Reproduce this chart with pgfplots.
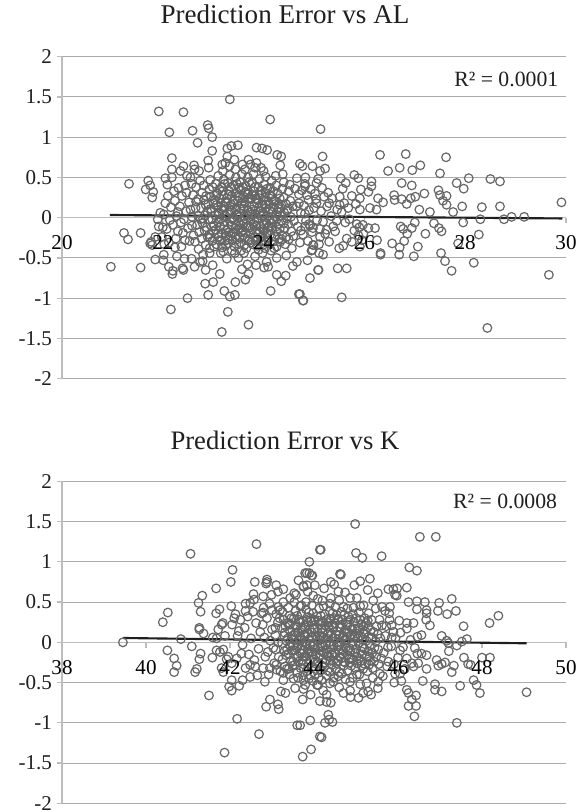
\documentclass[border=0pt]{standalone}
\usepackage{fontspec}
\setmainfont{Liberation Serif}
\usepackage{pgfplots}
\pgfplotsset{compat=1.18}
\definecolor{gridc}{HTML}{ABABAB}
\definecolor{axc}{HTML}{BDBDBD}
\definecolor{markc}{HTML}{666666}
\pgfplotsset{
  common/.style={
    scale only axis, width=378pt, height=241.5pt,
    ymin=-2, ymax=2, ytick={-2,-1.5,-1,-0.5,0,0.5,1,1.5,2},
    yticklabels={-2,-1.5,-1,-0.5,0,0.5,1,1.5,2},
    axis x line=middle, axis y line=left,
    axis line style={draw=axc, line width=1.1pt, -},
    ymajorgrids, grid style={draw=gridc, line width=0.75pt},
    tick style={draw=axc, line width=0.9pt},
    tick align=outside, major tick length=4pt,
    hide obscured x ticks=false,
    every tick label/.style={font=\fontsize{15.8}{18}\selectfont, text=black!88},
    xticklabel style={font=\fontsize{15.8}{18}\selectfont, text=black, yshift=-6pt},
    clip=false,
  },
  labelsonly/.style={
    scale only axis, width=378pt, height=241.5pt, ymin=-2, ymax=2,
    axis x line=middle, axis y line=none, hide obscured x ticks=false,
    axis line style={draw=none}, tick style={draw=none}, tick align=outside, major tick length=4pt,
    xticklabel style={font=\fontsize{15.8}{18}\selectfont, text=black, yshift=-6pt},
    clip=false,
  },
  pts/.style={only marks, mark=o, mark size=3.25pt, mark options={draw=markc, line width=0.9pt, fill=none}},
  trend/.style={no marks, draw=black!88, line width=1.6pt},
}
\begin{document}
\begin{tikzpicture}[x=1pt,y=1pt]
\node[font=\fontsize{20.3}{22}\selectfont, text=black!88] at (213.7,598) {Prediction Error vs AL};
\node[font=\fontsize{20}{22}\selectfont, text=black!88] at (213.7,279) {Prediction Error vs K};
\begin{axis}[common, at={(46.5pt,325pt)}, anchor=south west,
  xmin=20, xmax=30, xtick={20,22,...,30}, xticklabels={}]
\addplot[pts] coordinates {
(21.92,1.32)(22.41,1.31)(23.33,1.47)(24.13,1.22)(22.13,1.06)(22.59,1.08)(22.89,1.15)(22.91,1.11)(22.98,1.00)(22.69,0.93)(25.13,1.10)
(22.98,0.83)(23.28,0.86)(23.36,0.89)(23.49,0.90)(23.86,0.87)(23.97,0.86)(24.07,0.84)(24.27,0.78)(24.35,0.76)(22.18,0.74)(22.90,0.71)(23.28,0.76)
(24.33,0.65)(24.72,0.67)(24.77,0.64)(24.97,0.64)(25.17,0.76)(21.33,0.42)(21.71,0.46)(21.75,0.40)(21.66,0.35)(21.81,0.32)(21.79,0.25)(22.18,0.60)
(22.05,0.49)(22.18,0.50)(22.09,0.41)(22.41,0.64)(22.62,0.65)(22.35,0.58)(22.48,0.52)(22.55,0.50)(22.63,0.60)(22.72,0.58)(22.91,0.62)(23.18,0.66)
(23.24,0.68)(23.42,0.72)(23.58,0.66)(23.70,0.72)(23.74,0.66)(23.86,0.68)(23.95,0.62)(24.00,0.58)(24.24,0.52)(24.38,0.54)(24.66,0.49)(24.83,0.50)
(26.31,0.78)(26.82,0.79)(27.62,0.75)(26.47,0.58)(26.70,0.62)(26.95,0.59)(27.11,0.65)(27.50,0.55)(25.12,0.58)(25.22,0.61)(25.53,0.49)(25.63,0.43)
(25.80,0.53)(25.88,0.49)(26.14,0.45)(26.74,0.43)(26.94,0.40)(27.83,0.43)(27.97,0.36)(28.07,0.49)(28.50,0.48)(28.69,0.45)(29.91,0.19)(28.69,0.14)
(28.33,0.13)(27.94,0.14)(27.19,0.30)(27.47,0.34)(27.50,0.28)(27.63,0.27)(27.56,0.21)(27.63,0.16)(27.01,0.26)(26.92,0.24)(26.84,0.17)(27.09,0.10)
(27.30,0.07)(27.76,0.07)(26.59,0.28)(26.60,0.22)(26.74,0.23)(26.37,0.19)(26.27,0.24)(26.14,0.39)(26.08,0.32)(25.93,0.35)(25.57,0.36)(25.05,0.43)
(25.08,0.48)(24.82,0.42)(24.82,0.39)(25.28,0.31)(25.20,0.26)(25.51,0.26)(25.75,0.27)(25.91,0.24)(26.11,0.12)(26.24,0.10)(25.91,0.10)(25.51,0.16)
(25.55,0.07)(25.05,0.18)(24.89,0.22)(28.92,0.01)(29.17,0.01)(28.77,-0.02)(28.30,-0.02)(27.96,-0.06)
(24.92,-0.75)(25.08,-0.65)(25.47,-0.63)(25.65,-0.63)(25.55,-0.99)(24.79,-1.03)(24.72,-0.95)(28.44,-1.37)(29.66,-0.71)(28.17,-0.56)(27.73,-0.66)
(27.60,-0.54)(27.52,-0.44)(26.98,-0.48)(26.69,-0.46)(26.32,-0.44)(26.32,-0.46)(27.06,-0.36)(26.70,-0.37)(26.55,-0.32)(26.25,-0.28)(26.79,-0.29)
(26.85,-0.20)(26.94,-0.13)(27.21,-0.20)(26.72,-0.11)(26.77,-0.14)(27.00,-0.06)(27.38,-0.07)(27.48,-0.13)(27.53,-0.17)(28.27,-0.21)(27.86,-0.32)
(24.87,-0.53)(24.98,-0.34)(24.97,-0.40)(25.10,-0.44)(25.18,-0.46)(25.50,-0.38)(25.58,-0.35)(25.65,-0.26)(25.75,-0.30)(25.91,-0.36)(25.88,-0.22)
(25.98,-0.20)(25.95,-0.28)(25.25,-0.15)(25.38,-0.11)(24.98,-0.13)(24.92,-0.10)(24.82,-0.11)(25.12,-0.24)(26.21,-0.13)(26.08,-0.13)(25.90,-0.12)
(25.80,-0.16)(25.85,-0.08)(25.97,-0.09)(25.62,-0.06)(25.45,-0.04)(25.18,-0.05)
(20.97,-0.61)(21.56,-0.62)(21.23,-0.19)(21.31,-0.27)(21.56,-0.19)(21.85,-0.52)(22.01,-0.53)(22.02,-0.46)(22.12,-0.61)(22.20,-0.66)(22.19,-0.70)
(22.41,-0.65)(22.39,-0.63)(22.63,-0.61)(22.85,-0.65)(22.99,-0.59)(23.13,-0.70)(23.00,-0.80)(22.84,-0.82)(23.44,-0.80)(22.90,-0.96)(22.49,-1.00)
(22.16,-1.14)(23.22,-0.91)(23.33,-0.98)(23.43,-0.96)(23.29,-1.17)(23.70,-1.33)(23.17,-1.42)(24.14,-0.91)(24.70,-0.95)(24.78,-1.03)(24.35,-0.79)
(24.26,-0.71)(24.44,-0.72)(23.64,-0.77)(23.70,-0.70)(23.57,-0.64)(23.68,-0.58)(23.85,-0.59)(24.01,-0.62)(24.09,-0.61)(24.06,-0.55)(24.58,-0.60)
(24.66,-0.55)(25.09,-0.65)(24.26,-0.50)(24.45,-0.47)(23.83,-0.48)(23.27,-0.51)(23.50,-0.50)(22.74,-0.55)(22.79,-0.54)(22.57,-0.51)(22.43,-0.51)
(22.28,-0.48)(22.80,-0.46)(21.75,-0.32)(21.77,-0.30)(21.79,-0.34)(21.85,-0.24)(21.92,-0.11)(22.37,-0.36)(22.24,-0.37)(22.64,-0.30)(22.93,-0.38)
(23.20,-0.42)(23.43,-0.44)(24.03,-0.38)(24.99,-0.34)(24.95,-0.41)
% outer ring of the cloud
(21.95,0.06)(22.02,0.04)(22.05,0.18)(22.10,0.27)(22.16,0.13)(22.22,0.33)(22.24,0.21)(22.27,0.02)(22.31,0.37)(22.34,0.14)(22.36,-0.06)(22.38,0.27)
(22.40,-0.19)(22.44,0.40)(22.46,0.08)(22.47,0.31)(22.50,-0.13)(22.52,0.19)(22.53,-0.29)(22.57,0.42)(22.58,0.01)(22.60,0.28)(22.61,-0.22)(22.65,0.12)
(22.66,0.38)(22.68,-0.09)(22.70,0.23)(22.71,-0.39)(22.74,0.46)(22.75,-0.02)(21.98,-0.24)(22.08,-0.14)(22.12,-0.31)(22.20,-0.09)(22.26,-0.26)(22.30,-0.17)
(22.03,-0.33)(22.14,-0.03)(21.90,-0.02)(22.00,-0.12)
(24.62,0.36)(24.66,0.14)(24.68,-0.11)(24.70,0.29)(24.72,-0.31)(24.74,0.06)(24.76,0.34)(24.78,-0.21)(24.80,0.15)(24.84,-0.04)(24.86,0.28)(24.88,-0.29)
(24.90,0.09)(24.94,0.35)(24.96,-0.18)(25.00,0.12)(25.02,0.30)(25.06,-0.03)(25.10,-0.33)(25.14,0.08)(25.16,0.37)(25.22,-0.20)(25.26,0.14)(25.30,-0.30)
(25.34,0.02)(25.36,0.24)(25.42,-0.17)(25.46,0.10)(25.60,0.18)(25.68,0.12)(25.70,-0.02)(25.83,0.17)
% dense core
(22.78,0.31)(22.82,0.22)(22.76,0.12)(22.84,0.03)(22.79,-0.07)(22.83,-0.16)(22.77,-0.26)(22.85,-0.34)(22.81,0.40)
(22.92,0.35)(22.95,0.26)(22.90,0.17)(22.96,0.07)(22.91,-0.02)(22.97,-0.11)(22.92,-0.21)(22.98,-0.29)(22.94,0.47)(22.93,-0.44)
(23.05,0.42)(23.08,0.30)(23.03,0.22)(23.09,0.13)(23.04,0.03)(23.10,-0.06)(23.05,-0.15)(23.11,-0.24)(23.06,-0.33)(23.10,0.52)
(23.17,0.38)(23.20,0.28)(23.15,0.18)(23.21,0.09)(23.16,-0.01)(23.22,-0.10)(23.17,-0.20)(23.23,-0.29)(23.18,-0.37)(23.21,0.47)(23.19,0.58)
(23.29,0.43)(23.32,0.33)(23.27,0.24)(23.33,0.14)(23.28,0.05)(23.34,-0.05)(23.29,-0.14)(23.35,-0.23)(23.30,-0.32)(23.33,0.53)(23.32,0.64)
(23.41,0.40)(23.44,0.30)(23.39,0.20)(23.45,0.10)(23.40,0.00)(23.46,-0.09)(23.41,-0.18)(23.47,-0.27)(23.42,-0.36)(23.45,0.50)(23.44,0.60)
(23.53,0.44)(23.56,0.34)(23.51,0.25)(23.57,0.15)(23.52,0.06)(23.58,-0.04)(23.53,-0.13)(23.59,-0.22)(23.54,-0.31)(23.57,0.54)(23.55,-0.41)
(23.65,0.39)(23.68,0.29)(23.63,0.19)(23.69,0.09)(23.64,-0.01)(23.70,-0.10)(23.65,-0.19)(23.71,-0.29)(23.66,-0.38)(23.69,0.50)(23.63,0.60)
(23.77,0.43)(23.80,0.33)(23.75,0.23)(23.81,0.14)(23.76,0.04)(23.82,-0.05)(23.77,-0.15)(23.83,-0.24)(23.78,-0.33)(23.80,0.54)(23.83,0.62)
(23.89,0.38)(23.92,0.28)(23.87,0.18)(23.93,0.08)(23.88,-0.01)(23.94,-0.11)(23.89,-0.20)(23.95,-0.29)(23.90,-0.40)(23.92,0.48)
(24.01,0.41)(24.04,0.31)(23.99,0.22)(24.05,0.12)(24.00,0.03)(24.06,-0.07)(24.01,-0.16)(24.07,-0.25)(24.02,-0.33)(24.04,0.51)
(24.13,0.37)(24.16,0.26)(24.11,0.17)(24.17,0.07)(24.12,-0.02)(24.18,-0.12)(24.13,-0.21)(24.19,-0.30)(24.15,-0.41)(24.16,0.46)
(24.25,0.40)(24.28,0.30)(24.23,0.20)(24.29,0.11)(24.24,0.01)(24.30,-0.08)(24.25,-0.17)(24.31,-0.26)(24.26,-0.36)
(24.37,0.36)(24.40,0.25)(24.35,0.16)(24.41,0.06)(24.36,-0.04)(24.42,-0.13)(24.37,-0.22)(24.43,-0.33)(24.40,0.44)
(24.50,0.33)(24.53,0.21)(24.48,0.11)(24.54,0.01)(24.49,-0.08)(24.55,-0.17)(24.50,-0.27)(24.56,-0.38)(24.52,0.41)
% dense core, points between
(22.86,0.27)(22.88,0.08)(22.87,-0.12)(22.89,-0.24)
(22.99,0.38)(23.01,0.18)(22.98,-0.02)(23.00,-0.17)(23.02,-0.36)
(23.12,0.35)(23.13,0.24)(23.11,0.05)(23.14,-0.11)(23.13,-0.28)(23.15,-0.44)
(23.23,0.42)(23.25,0.20)(23.24,0.02)(23.26,-0.16)(23.25,-0.34)
(23.35,0.38)(23.37,0.27)(23.36,0.09)(23.38,-0.01)(23.37,-0.10)(23.39,-0.28)(23.37,-0.41)
(23.47,0.42)(23.49,0.21)(23.48,0.03)(23.50,-0.06)(23.49,-0.15)(23.51,-0.33)
(23.59,0.38)(23.61,0.26)(23.60,0.11)(23.62,0.02)(23.61,-0.07)(23.63,-0.25)(23.61,-0.44)
(23.71,0.44)(23.73,0.24)(23.72,0.06)(23.74,-0.03)(23.73,-0.12)(23.75,-0.31)
(23.83,0.38)(23.85,0.24)(23.84,0.09)(23.86,-0.03)(23.85,-0.17)(23.87,-0.35)
(23.95,0.34)(23.97,0.17)(23.96,0.02)(23.98,-0.14)(23.97,-0.24)(23.98,-0.44)
(24.07,0.36)(24.09,0.20)(24.08,0.02)(24.10,-0.11)(24.09,-0.28)
(24.19,0.33)(24.21,0.13)(24.20,-0.04)(24.22,-0.23)(24.21,-0.38)
(24.32,0.24)(24.33,0.03)(24.32,-0.14)(24.33,-0.30)
(24.44,0.17)(24.46,-0.01)(24.45,-0.24)
(24.58,0.14)(24.60,-0.04)(24.59,-0.23)
(22.66,0.20)(22.70,0.02)(22.72,-0.18)(22.55,0.10)(22.58,-0.10)(22.42,-0.02)(22.44,-0.28)(22.30,0.07)
(24.70,0.18)(24.74,-0.16)(24.82,0.05)(24.90,-0.08)(25.04,0.23)(25.12,-0.14)(25.30,0.18)
% tight centre of the cloud
(23.07,0.16)(23.12,-0.02)(23.19,0.33)(23.22,0.14)(23.26,-0.22)(23.31,0.29)(23.34,0.07)(23.38,-0.19)(23.43,0.22)(23.46,0.04)(23.51,0.37)(23.54,-0.09)(23.56,0.18)(23.60,-0.16)(23.64,0.32)(23.67,0.03)(23.70,0.24)(23.74,-0.20)(23.78,0.10)(23.82,0.27)(23.86,-0.10)(23.90,0.12)(23.94,-0.24)(23.99,0.06)(24.03,0.25)(24.06,-0.19)(24.11,0.10)(24.15,-0.07)(24.20,0.21)(24.25,-0.11)(24.30,0.17)(24.36,-0.27)
(23.09,-0.20)(23.16,0.11)(23.21,-0.05)(23.27,0.18)(23.31,-0.18)(23.36,0.16)(23.41,-0.03)(23.44,-0.24)(23.49,0.27)(23.53,0.11)(23.57,-0.18)(23.61,0.14)(23.66,-0.12)(23.69,0.30)(23.72,-0.27)(23.77,0.28)(23.80,-0.08)(23.83,0.05)(23.88,0.22)(23.92,-0.17)(23.96,0.29)(24.00,-0.09)(24.04,0.16)(24.08,-0.13)(24.13,0.28)(24.17,-0.02)(24.23,-0.24)(24.28,0.07)
(22.95,0.11)(23.01,-0.10)(23.06,0.28)(23.10,0.06)(22.85,0.16)(22.80,-0.01)(22.94,-0.25)(23.17,-0.28)(23.29,-0.27)(23.52,-0.25)(23.62,-0.34)(23.84,-0.28)(24.05,-0.31)(24.40,-0.07)(24.47,0.09)(24.34,0.12)
};
\addplot[trend] coordinates {(20.95,0.033)(29.93,-0.01)};
\node[anchor=east, font=\fontsize{16.3}{18}\selectfont, text=black!88] at (axis cs:29.94,1.72) {R² = 0.0001};
\end{axis}
\begin{axis}[labelsonly, at={(46.5pt,325pt)}, anchor=south west,
  xmin=20, xmax=30, xtick={20,22,...,30}, xticklabels={20,22,24,26,28,30}, ytick=\empty]
\end{axis}
\begin{axis}[common, at={(46.5pt,6.5pt)}, anchor=south west,
  xmin=38, xmax=50, xtick={38,40,...,50}, xticklabels={}]
\addplot[pts] coordinates {
(41.06,1.10)(42.63,1.22)(44.14,1.15)(43.89,1.00)(42.06,0.90)(42.02,0.75)(42.59,0.75)(42.88,0.78)(42.88,0.75)(42.86,0.73)(43.83,0.86)(43.89,0.86)(43.94,0.83)
(43.63,0.77)(43.75,0.69)(43.83,0.71)(41.67,0.67)(43.10,0.71)(43.27,0.66)(41.34,0.58)(41.25,0.49)(41.30,0.38)(40.52,0.37)(40.40,0.25)(41.67,0.36)(41.75,0.41)
(42.03,0.45)(42.56,0.60)(42.37,0.48)(42.48,0.49)(42.57,0.53)(42.79,0.57)(42.99,0.59)(42.94,0.48)(43.14,0.63)(43.53,0.61)(43.57,0.59)(43.43,0.55)(43.85,0.63)
(43.81,0.50)(42.13,0.35)(42.10,0.30)(42.37,0.39)(42.75,0.36)(42.79,0.37)(43.15,0.44)(43.19,0.40)(41.27,0.16)(41.27,0.18)(41.37,0.11)(41.83,0.24)(41.80,0.22)
(41.72,0.16)(41.88,0.08)(42.21,0.14)(40.83,0.04)(41.59,0.06)(41.68,0.05)(39.45,0.00)
(44.98,1.47)(46.52,1.31)(46.90,1.31)(44.16,1.15)(45.00,1.11)(45.15,1.05)(45.61,1.07)(46.27,0.93)(46.45,0.89)(43.79,0.86)(43.96,0.83)(44.64,0.84)(44.62,0.85)
(45.33,0.79)(45.10,0.76)(44.96,0.71)(45.28,0.65)(45.52,0.61)(46.21,0.68)(45.77,0.66)(45.89,0.66)(45.98,0.67)(45.93,0.59)(45.97,0.58)(47.28,0.54)(44.40,0.75)
(44.48,0.72)(44.58,0.63)(44.74,0.62)(43.75,0.70)(44.02,0.71)(44.24,0.67)(46.25,0.50)(46.45,0.51)(46.64,0.50)(46.98,0.49)(46.95,0.39)(47.17,0.35)(47.38,0.39)
(46.45,0.41)(46.68,0.40)(46.68,0.36)(46.67,0.28)(46.76,0.21)(48.39,0.33)(48.18,0.24)(47.56,0.20)(47.04,0.08)(47.64,0.04)(47.52,0.01)(47.40,-0.04)(47.16,0.02)
(47.20,-0.01)(46.56,0.09)(46.46,0.07)(46.37,0.24)(46.21,0.24)(46.21,0.17)(46.03,0.27)(45.85,0.21)(45.89,0.13)(45.81,0.44)(45.69,0.39)(45.79,0.36)(45.41,0.52)
(45.18,0.46)(45.10,0.45)(44.70,0.44)(44.38,0.48)(45.56,0.28)(45.37,0.28)(45.29,0.19)(45.02,0.55)(44.86,0.55)
(40.51,-0.10)(40.67,-0.20)(40.73,-0.29)(40.67,-0.37)(41.09,-0.05)(41.30,-0.14)(41.27,-0.21)(41.21,-0.33)(41.17,-0.37)(41.58,-0.19)(41.68,-0.10)(41.76,-0.12)
(41.84,-0.09)(41.80,-0.32)(41.84,-0.37)(41.50,-0.66)(42.04,-0.47)(41.98,-0.55)(42.04,-0.60)(42.22,-0.54)(42.30,-0.47)(42.48,-0.43)(42.65,-0.41)(42.83,-0.49)
(42.17,-0.95)(42.69,-1.14)(41.87,-1.37)(42.86,-0.80)(42.95,-0.71)(43.14,-0.77)(43.16,-0.83)(43.60,-1.03)(43.91,-0.97)(44.14,-1.17)(43.93,-1.33)(43.73,-1.42)
(43.73,-0.71)(43.92,-0.65)(44.14,-0.73)(43.21,-0.61)(43.32,-0.63)(43.55,-0.57)(43.75,-0.58)(43.27,-0.47)(43.51,-0.45)(43.75,-0.47)(44.07,-0.53)
(42.48,-0.28)(42.60,-0.30)(42.37,-0.32)(42.79,-0.32)(42.95,-0.32)(43.11,-0.34)(43.27,-0.38)(42.04,-0.26)(42.16,-0.20)(42.27,-0.14)(41.96,-0.18)(41.92,-0.21)
(44.18,-1.18)(44.26,-1.00)(44.34,-0.90)(44.36,-0.96)(44.44,-0.99)(43.67,-1.03)(46.39,-0.92)(46.43,-0.79)(46.25,-0.79)(47.40,-1.00)(49.06,-0.62)(47.95,-0.63)
(47.87,-0.53)(47.80,-0.47)(47.48,-0.54)(47.04,-0.61)(46.88,-0.59)(46.88,-0.52)(46.59,-0.48)(46.43,-0.66)(46.33,-0.71)(46.25,-0.63)(46.21,-0.59)(46.08,-0.48)
(45.91,-0.50)(45.52,-0.57)(45.36,-0.65)(45.29,-0.61)(45.17,-0.63)(45.06,-0.69)(44.87,-0.68)(44.86,-0.60)(44.70,-0.63)(44.40,-0.75)(44.30,-0.74)(44.30,-0.65)
(47.28,-0.37)(47.33,-0.29)(47.57,-0.19)(47.67,-0.27)(47.73,-0.28)(48.00,-0.19)(48.19,-0.19)(47.21,-0.11)(47.12,-0.25)(47.04,-0.27)(46.92,-0.22)(46.96,-0.29)
(46.68,-0.33)(46.68,-0.16)(46.56,-0.14)(46.46,-0.14)(46.48,-0.26)(46.37,-0.30)(46.33,-0.26)(46.21,-0.20)(46.05,-0.10)(46.05,-0.39)(45.93,-0.39)(45.77,-0.24)
(45.57,-0.39)(45.53,-0.49)(45.25,-0.51)(44.86,-0.49)(44.75,-0.46)(44.46,-0.49)(44.38,-0.51)(44.10,-0.53)(43.79,-0.53)
% outer ring of the cloud
(42.05,0.22)(42.18,0.08)(42.25,0.28)(42.30,-0.03)(42.35,0.18)(42.42,0.32)(42.45,-0.15)(42.50,0.05)(42.55,0.38)(42.58,-0.22)(42.62,0.24)(42.68,-0.08)(42.72,0.13)
(42.80,0.43)(42.84,-0.18)(42.88,0.30)(42.92,-0.40)(42.96,0.02)(43.00,0.40)(43.05,-0.26)(43.08,0.18)(45.62,0.21)(45.66,-0.13)(45.70,0.08)(45.74,-0.30)(45.80,0.28)
(45.84,-0.05)(45.90,-0.27)(45.94,0.05)(46.00,-0.19)(46.06,0.12)(46.12,-0.06)(46.16,-0.33)(46.30,0.03)(46.40,-0.07)(45.62,0.44)(45.30,0.36)(44.94,0.43)(44.20,0.52)
(43.98,0.58)(43.70,0.46)(44.60,0.52)(45.47,0.42)(45.64,-0.42)(45.40,-0.44)(45.10,-0.52)(44.92,-0.44)(44.60,-0.56)(44.22,-0.60)(43.98,-0.48)
% dense core
(43.10,0.35)(43.14,0.25)(43.08,0.09)(43.15,0.00)(43.09,-0.09)(43.16,-0.18)(43.10,-0.28)
(43.25,0.38)(43.28,0.28)(43.23,0.18)(43.29,0.08)(43.24,-0.01)(43.30,-0.11)(43.25,-0.21)(43.31,-0.30)(43.27,0.50)
(43.39,0.43)(43.42,0.33)(43.37,0.24)(43.43,0.14)(43.38,0.05)(43.44,-0.05)(43.39,-0.14)(43.45,-0.23)(43.40,-0.33)(43.42,-0.40)
(43.53,0.50)(43.56,0.39)(43.51,0.29)(43.57,0.19)(43.52,0.09)(43.58,0.00)(43.53,-0.10)(43.59,-0.19)(43.54,-0.28)(43.60,-0.38)
(43.67,0.45)(43.70,0.35)(43.65,0.25)(43.71,0.15)(43.66,0.06)(43.72,-0.04)(43.67,-0.13)(43.73,-0.22)(43.68,-0.32)(43.74,-0.41)
(43.81,0.41)(43.84,0.31)(43.79,0.21)(43.85,0.11)(43.80,0.01)(43.86,-0.08)(43.81,-0.17)(43.87,-0.27)(43.82,-0.36)(43.88,-0.45)
(43.95,0.46)(43.98,0.36)(43.93,0.26)(43.99,0.17)(43.94,0.07)(44.00,-0.03)(43.95,-0.12)(44.01,-0.21)(43.96,-0.31)(44.02,-0.40)
(44.09,0.54)(44.12,0.42)(44.07,0.32)(44.13,0.22)(44.08,0.13)(44.14,0.03)(44.09,-0.07)(44.15,-0.16)(44.10,-0.25)(44.16,-0.35)(44.11,-0.44)
(44.23,0.45)(44.26,0.35)(44.21,0.25)(44.27,0.16)(44.22,0.06)(44.28,-0.03)(44.23,-0.13)(44.29,-0.22)(44.24,-0.31)(44.30,-0.41)
(44.37,0.39)(44.40,0.29)(44.35,0.20)(44.41,0.10)(44.36,0.00)(44.42,-0.09)(44.37,-0.18)(44.43,-0.28)(44.38,-0.37)(44.40,0.55)
(44.51,0.44)(44.54,0.34)(44.49,0.24)(44.55,0.14)(44.50,0.05)(44.56,-0.05)(44.51,-0.14)(44.57,-0.23)(44.52,-0.33)(44.58,-0.42)
(44.65,0.38)(44.68,0.28)(44.63,0.18)(44.69,0.08)(44.64,-0.01)(44.70,-0.11)(44.65,-0.20)(44.71,-0.29)(44.66,-0.39)
(44.79,0.42)(44.82,0.32)(44.77,0.22)(44.83,0.12)(44.78,0.03)(44.84,-0.07)(44.79,-0.16)(44.85,-0.25)(44.80,-0.35)
(44.93,0.35)(44.96,0.25)(44.91,0.16)(44.97,0.06)(44.92,-0.04)(44.98,-0.13)(44.93,-0.22)(44.99,-0.32)
(45.07,0.37)(45.10,0.28)(45.05,0.18)(45.11,0.08)(45.06,-0.01)(45.12,-0.11)(45.07,-0.20)(45.13,-0.29)(45.08,-0.40)
(45.21,0.30)(45.24,0.24)(45.19,0.11)(45.25,0.02)(45.20,-0.08)(45.26,-0.17)(45.21,-0.27)(45.27,-0.36)
(45.35,0.15)(45.38,0.06)(45.33,-0.04)(45.39,-0.13)(45.34,-0.23)(45.40,-0.32)
(45.49,0.20)(45.52,0.10)(45.47,0.01)(45.53,-0.09)(45.48,-0.18)(45.54,-0.27)
% dense core, points between
(43.32,0.20)(43.34,0.02)(43.33,-0.16)(43.35,-0.33)
(43.46,0.30)(43.48,0.08)(43.47,-0.10)(43.49,-0.29)
(43.60,0.33)(43.62,0.12)(43.61,-0.05)(43.63,-0.24)(43.62,-0.44)
(43.74,0.27)(43.76,0.08)(43.75,-0.10)(43.77,-0.18)(43.76,-0.33)
(43.88,0.37)(43.90,0.16)(43.89,0.04)(43.91,-0.03)(43.90,-0.22)(43.91,-0.41)
(44.02,0.28)(44.04,0.08)(44.03,-0.08)(44.05,-0.15)(44.04,-0.33)
(44.16,0.33)(44.18,0.17)(44.17,0.08)(44.19,-0.02)(44.18,-0.11)(44.20,-0.29)(44.18,-0.47)
(44.30,0.28)(44.32,0.10)(44.31,-0.08)(44.33,-0.17)(44.32,-0.35)
(44.44,0.36)(44.46,0.18)(44.45,0.05)(44.47,-0.04)(44.46,-0.23)(44.47,-0.44)
(44.58,0.28)(44.60,0.09)(44.59,-0.09)(44.61,-0.18)(44.60,-0.37)
(44.72,0.34)(44.74,0.15)(44.73,0.03)(44.75,-0.07)(44.74,-0.25)
(44.86,0.28)(44.88,0.09)(44.87,-0.10)(44.89,-0.29)
(45.00,0.30)(45.02,0.11)(45.01,-0.08)(45.03,-0.26)(45.02,-0.40)
(45.14,0.22)(45.16,0.03)(45.15,-0.15)(45.17,-0.33)
(45.28,0.27)(45.30,0.07)(45.29,-0.11)(45.31,-0.28)
(45.42,0.13)(45.44,-0.07)(45.43,-0.24)(42.78,0.22)(42.82,0.06)(42.90,-0.12)(43.00,0.16)(43.03,-0.07)(43.18,0.30)(43.20,-0.36)
(45.58,0.05)(45.60,-0.20)(45.72,0.20)(45.76,-0.06)(45.85,0.06)
% tight centre of the cloud
(43.30,0.12)(43.36,-0.09)(43.41,0.24)(43.47,0.04)(43.50,-0.24)(43.55,0.21)(43.59,-0.07)(43.64,0.28)(43.69,0.03)(43.72,-0.14)(43.77,0.19)(43.82,-0.02)(43.86,0.25)(43.90,-0.12)(43.95,0.12)(44.00,0.26)(44.03,-0.24)(44.07,0.06)(44.12,-0.19)(44.17,0.25)(44.21,-0.05)(44.26,0.21)(44.30,-0.14)(44.34,0.12)(44.39,-0.23)(44.43,0.22)(44.48,-0.13)(44.52,0.10)(44.57,0.29)(44.61,-0.03)(44.66,0.22)(44.70,-0.24)(44.76,0.12)(44.81,-0.10)(44.86,0.19)(44.90,-0.20)(44.96,0.08)(45.02,-0.18)(45.09,0.15)(45.16,-0.06)(45.23,0.13)(45.32,-0.18)
(43.43,0.22)(43.50,-0.04)(43.56,0.12)(43.62,-0.17)(43.69,0.18)(43.74,-0.27)(43.79,0.09)(43.84,-0.14)(43.92,0.30)(43.97,-0.05)(44.02,0.17)(44.06,-0.27)(44.11,0.27)(44.15,-0.05)(44.20,0.12)(44.25,-0.25)(44.29,0.05)(44.34,0.24)(44.39,-0.03)(44.43,-0.16)(44.48,0.30)(44.53,-0.26)(44.56,0.00)(44.62,0.18)(44.68,-0.14)(44.72,0.07)(44.80,0.25)(44.84,-0.21)(44.91,0.00)(44.97,0.17)(45.04,0.05)(45.11,-0.23)(45.18,0.20)
};
\addplot[trend] coordinates {(39.45,0.054)(49.06,-0.012)};
\node[anchor=east, font=\fontsize{16.3}{18}\selectfont, text=black!88] at (axis cs:49.9,1.75) {R² = 0.0008};
\end{axis}
\begin{axis}[labelsonly, at={(46.5pt,6.5pt)}, anchor=south west,
  xmin=38, xmax=50, xtick={38,40,...,50}, xticklabels={38,40,42,44,46,48,50}, ytick=\empty]
\end{axis}
\pgfresetboundingbox
\path[use as bounding box] (0,0) rectangle (440.25,609);
\end{tikzpicture}
\end{document}
